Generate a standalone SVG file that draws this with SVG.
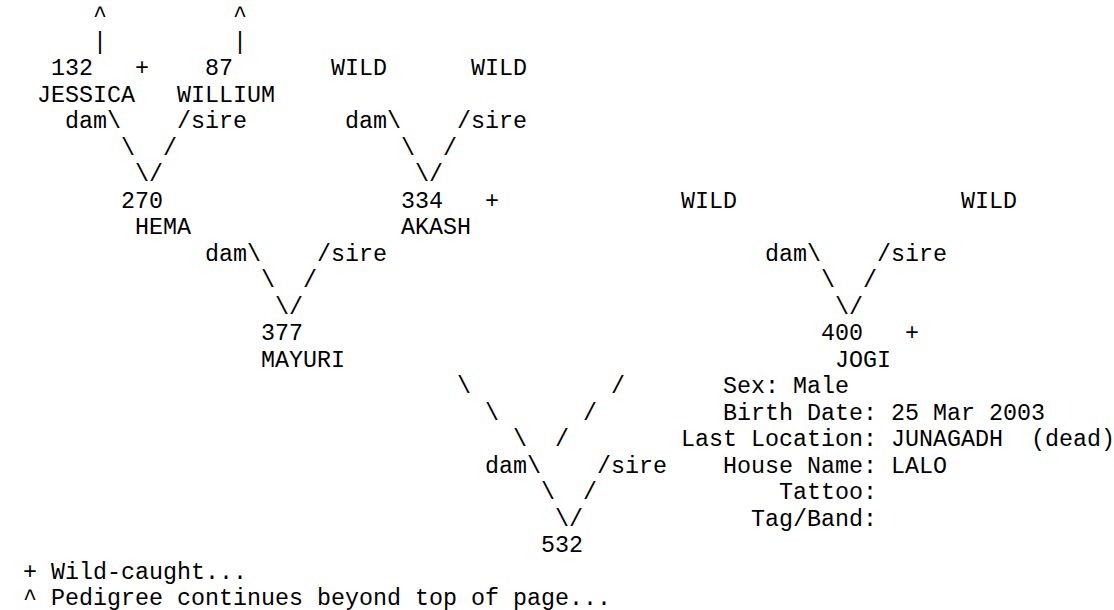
<svg xmlns="http://www.w3.org/2000/svg" width="1114" height="610" viewBox="0 0 1114 610">
<style>
text{font-family:"Liberation Mono","Courier New",monospace;font-size:23.333px;fill:#000}
</style>
<rect x="0" y="0" width="1114" height="610" fill="#fff"/>
<g id="connectors">
<text x="93" y="22">^</text><text x="233" y="22">^</text>
<text x="93" y="48.5">|</text><text x="233" y="48.5">|</text>
<text x="65" y="128">dam\</text><text x="177" y="128">/sire</text>
<text x="345" y="128">dam\</text><text x="457" y="128">/sire</text>
<text x="121" y="154.5">\</text><text x="163" y="154.5">/</text>
<text x="401" y="154.5">\</text><text x="443" y="154.5">/</text>
<text x="135" y="181">\/</text><text x="415" y="181">\/</text>
<text x="205" y="260.5">dam\</text><text x="317" y="260.5">/sire</text>
<text x="765" y="260.5">dam\</text><text x="877" y="260.5">/sire</text>
<text x="261" y="287">\</text><text x="303" y="287">/</text>
<text x="821" y="287">\</text><text x="863" y="287">/</text>
<text x="275" y="313.5">\/</text><text x="835" y="313.5">\/</text>
<text x="457" y="393">\</text><text x="611" y="393">/</text>
<text x="485" y="419.5">\</text><text x="583" y="419.5">/</text>
<text x="513" y="446">\</text><text x="555" y="446">/</text>
<text x="485" y="472.5">dam\</text><text x="597" y="472.5">/sire</text>
<text x="541" y="499">\</text><text x="583" y="499">/</text>
<text x="555" y="525.5">\/</text>
</g>
<g id="node-132"><text x="51" y="75">132</text><text x="135" y="75">+</text><text x="37" y="101.5">JESSICA</text></g>
<g id="node-87"><text x="205" y="75">87</text><text x="177" y="101.5">WILLIUM</text></g>
<g id="node-wild-1"><text x="331" y="75">WILD</text></g>
<g id="node-wild-2"><text x="471" y="75">WILD</text></g>
<g id="node-270"><text x="121" y="207.5">270</text><text x="135" y="234">HEMA</text></g>
<g id="node-334"><text x="401" y="207.5">334</text><text x="485" y="207.5">+</text><text x="401" y="234">AKASH</text></g>
<g id="node-wild-3"><text x="681" y="207.5">WILD</text></g>
<g id="node-wild-4"><text x="961" y="207.5">WILD</text></g>
<g id="node-377"><text x="261" y="340">377</text><text x="261" y="366.5">MAYURI</text></g>
<g id="node-400"><text x="821" y="340">400</text><text x="905" y="340">+</text><text x="835" y="366.5">JOGI</text>
<text x="723" y="393">Sex: Male</text>
<text x="723" y="419.5">Birth Date: 25 Mar 2003</text>
<text x="681" y="446">Last Location: JUNAGADH<tspan x="1031">(dead)</tspan></text>
<text x="723" y="472.5">House Name: LALO</text>
<text x="779" y="499">Tattoo:</text>
<text x="751" y="525.5">Tag/Band:</text>
</g>
<g id="node-532"><text x="541" y="552">532</text></g>
<g id="legend">
<text x="23" y="578.5">+ Wild-caught...</text>
<text x="23" y="605">^ Pedigree continues beyond top of page...</text>
</g>
</svg>
